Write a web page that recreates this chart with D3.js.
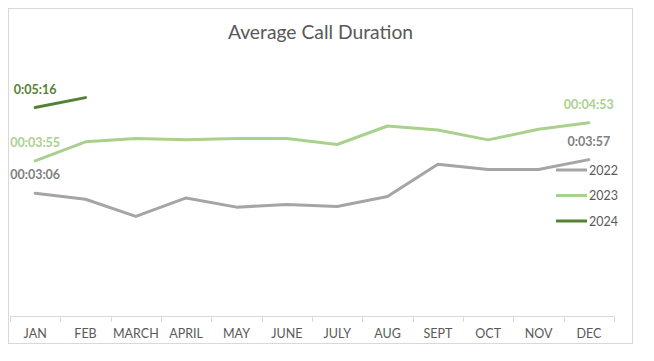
<!DOCTYPE html>
<html>
<head>
<meta charset="utf-8">
<script src="https://cdn.jsdelivr.net/npm/d3@7"></script>
<style>
  html, body { margin: 0; padding: 0; background: #ffffff; }
  svg { display: block; }
  text { font-family: Lato, "Open Sans", "Liberation Sans", sans-serif; }
</style>
</head>
<body>
<svg id="chart" width="654" height="361"></svg>
<script>
// ---- data (durations in seconds) ----
const months = ["JAN", "FEB", "MARCH", "APRIL", "MAY", "JUNE", "JULY", "AUG", "SEPT", "OCT", "NOV", "DEC"];
const years = ["2022", "2023", "2024"];
const values2022 = [186, 177, 151, 179, 165, 169, 166, 181, 230, 222, 222, 237];
const values2023 = [235, 264, 269, 267, 269, 269, 260, 288, 282, 267, 283, 293];
const values2024 = [316, 331];
const seriesColors = ["#A5A5A5", "#A9D18E", "#548235"];
const labelColors = ["#7F7F7F", "#A9D18E", "#548235"];
// data labels: [seriesIndex, monthIndex, text]
const dataLabels = [
  [2, 0, "0:05:16"],
  [1, 0, "00:03:55"],
  [0, 0, "00:03:06"],
  [1, 11, "00:04:53"],
  [0, 11, "0:03:57"]
];
const title = "Average Call Duration";

const allSeries = [values2022, values2023, values2024];

const svg = d3.select("#chart");

// chart border
svg.append("rect")
  .attr("x", 8.5).attr("y", 8.5)
  .attr("width", 624).attr("height", 335)
  .attr("fill", "#ffffff")
  .attr("stroke", "#D9D9D9").attr("stroke-width", 1);

// title
svg.append("text")
  .attr("x", 320.5).attr("y", 39)
  .attr("text-anchor", "middle")
  .attr("fill", "#595959")
  .attr("font-size", 19.3)
  .text(title);

const x = d3.scaleBand().domain(months).range([10, 614]).paddingInner(0).paddingOuter(0);
const bw = x.bandwidth();
const cx = m => x(m) + bw / 2;
const y = d3.scaleLinear().domain([0, 432]).range([316, 31]);

// axis line and tick marks between categories
const axisG = svg.append("g").attr("transform", "translate(0,316)");
axisG.append("line")
  .attr("x1", 10).attr("x2", 614)
  .attr("y1", 0.5).attr("y2", 0.5)
  .attr("stroke", "#D9D9D9").attr("stroke-width", 1);
const boundaries = months.map(m => x(m)).concat([x(months[months.length - 1]) + bw]);
axisG.selectAll("line.tk").data(boundaries).join("line")
  .attr("class", "tk")
  .attr("x1", d => Math.round(d) + 0.5).attr("x2", d => Math.round(d) + 0.5)
  .attr("y1", 0.5).attr("y2", 6)
  .attr("stroke", "#D9D9D9").attr("stroke-width", 1);

// axis labels via d3 axis
const xAxis = d3.axisBottom(x).tickSize(0).tickPadding(13);
const labelsG = svg.append("g").attr("transform", "translate(0,316)").call(xAxis);
labelsG.select(".domain").remove();
labelsG.selectAll("text")
  .attr("fill", "#595959")
  .attr("font-size", 12.5)
  .style("font-family", "Lato, 'Open Sans', sans-serif");

// lines
const line = d3.line()
  .x((d, i) => cx(months[i]))
  .y(d => y(d));

allSeries.forEach((vals, si) => {
  svg.append("path")
    .datum(vals)
    .attr("fill", "none")
    .attr("stroke", seriesColors[si])
    .attr("stroke-width", 3)
    .attr("stroke-linejoin", "round")
    .attr("stroke-linecap", "round")
    .attr("d", line);
});

// data labels
dataLabels.forEach(([si, mi, t]) => {
  svg.append("text")
    .attr("x", cx(months[mi]))
    .attr("y", y(allSeries[si][mi]) - 14)
    .attr("text-anchor", "middle")
    .attr("fill", labelColors[si])
    .attr("font-size", 12.5)
    .attr("font-weight", "bold")
    .text(t);
});

// legend
const legendY = [170, 195.5, 221];
years.forEach((yr, i) => {
  svg.append("line")
    .attr("x1", 556).attr("x2", 587)
    .attr("y1", legendY[i]).attr("y2", legendY[i])
    .attr("stroke", seriesColors[i]).attr("stroke-width", 3);
  svg.append("text")
    .attr("x", 589).attr("y", legendY[i] + 4.5)
    .attr("fill", "#595959")
    .attr("font-size", 12.5)
    .text(yr);
});
</script>
</body>
</html>
